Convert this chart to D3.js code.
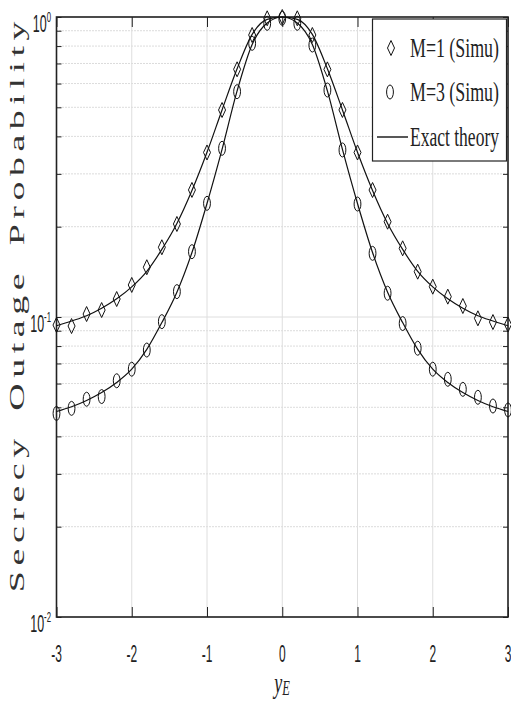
<!DOCTYPE html>
<html><head><meta charset="utf-8">
<script src="https://cdn.jsdelivr.net/npm/d3@7"></script>
<style>body{margin:0;background:#fff}svg{display:block}</style>
</head><body>
<svg id="c" width="511" height="704"></svg>
<script>
const xValues = [-3,-2.8,-2.6,-2.4,-2.2,-2,-1.8,-1.6,-1.4,-1.2,-1,-0.8,-0.6,-0.4,-0.2,0,0.2,0.4,0.6,0.8,1,1.2,1.4,1.6,1.8,2,2.2,2.4,2.6,2.8,3];
const simM1 = [0.0940,0.0933,0.1023,0.1055,0.1148,0.1279,0.1465,0.1708,0.2042,0.2652,0.3535,0.4898,0.6694,0.871,0.990,1.0,0.990,0.871,0.669,0.490,0.3535,0.265,0.2078,0.1694,0.1416,0.1262,0.1169,0.1088,0.0990,0.0962,0.0944];
const simM3 = [0.0477,0.0496,0.0532,0.0543,0.0613,0.0670,0.0776,0.0965,0.1215,0.1651,0.2393,0.3650,0.5637,0.8171,0.9528,0.990,0.953,0.8065,0.571,0.3604,0.238,0.163,0.1200,0.0951,0.0787,0.0670,0.0620,0.0574,0.0540,0.0505,0.0490];
const theoryM1 = [0.0935,0.097,0.101,0.107,0.115,0.126,0.142,0.168,0.205,0.264,0.354,0.490,0.672,0.875,0.982,1.0,0.982,0.875,0.672,0.490,0.354,0.264,0.205,0.168,0.142,0.126,0.115,0.107,0.101,0.097,0.0935];
const theoryM3 = [0.0484,0.0502,0.0527,0.0560,0.0605,0.0670,0.0780,0.0958,0.121,0.164,0.239,0.362,0.567,0.81,0.955,1.0,0.955,0.81,0.567,0.362,0.239,0.164,0.121,0.0958,0.0780,0.0670,0.0605,0.0560,0.0527,0.0502,0.0484];
const xTicks = [-3,-2,-1,0,1,2,3];
const yTickExps = [0,-1,-2];
const legendLabels = ["M=1 (Simu)","M=3 (Simu)","Exact theory"];

const svg = d3.select("#c");
const L=56.5, R=508, T=17, B=617;
const x = d3.scaleLinear().domain([-3,3]).range([L,R]);
const y = d3.scaleLog().domain([0.01,1]).range([B,T]);
const SERIF = "Liberation Serif, DejaVu Serif, serif";
const SANS = "Liberation Sans, Arial, sans-serif";

// grid
const g = svg.append("g");
const minor = [];
[0.01,0.1].forEach(d=>{for(let k=2;k<=9;k++) minor.push(+(d*k).toPrecision(3));});
g.selectAll("line.mg").data(minor).join("line")
  .attr("x1",L).attr("x2",R).attr("y1",d=>y(d)).attr("y2",d=>y(d))
  .attr("stroke","#b8b8b8").attr("stroke-width",1).attr("stroke-dasharray","1,2");
g.selectAll("line.vg").data(xTicks).join("line")
  .attr("x1",d=>x(d)).attr("x2",d=>x(d)).attr("y1",T).attr("y2",B)
  .attr("stroke","#dedede").attr("stroke-width",1);
g.selectAll("line.hg").data(yTickExps.map(e=>Math.pow(10,e))).join("line")
  .attr("x1",L).attr("x2",R).attr("y1",d=>y(d)).attr("y2",d=>y(d))
  .attr("stroke","#dedede").attr("stroke-width",1);

// ticks via d3 axes
const majorY = yTickExps.map(e=>Math.pow(10,e));
const allY = majorY.concat(minor);
svg.append("g").attr("transform",`translate(${L},0)`)
  .call(d3.axisRight(y).tickValues(allY).tickSize(5).tickFormat(""))
  .call(s=>{s.select(".domain").remove(); s.selectAll("line").attr("stroke","#222");});
svg.append("g").attr("transform",`translate(${R},0)`)
  .call(d3.axisLeft(y).tickValues(allY).tickSize(5).tickFormat(""))
  .call(s=>{s.select(".domain").remove(); s.selectAll("line").attr("stroke","#222");});
svg.append("g").attr("transform",`translate(0,${B})`)
  .call(d3.axisTop(x).tickValues(xTicks).tickSize(10).tickFormat(""))
  .call(s=>{s.select(".domain").remove(); s.selectAll("line").attr("stroke","#222");});
svg.append("g").attr("transform",`translate(0,${T})`)
  .call(d3.axisBottom(x).tickValues(xTicks).tickSize(10).tickFormat(""))
  .call(s=>{s.select(".domain").remove(); s.selectAll("line").attr("stroke","#222");});

// box
svg.append("rect").attr("x",L).attr("y",T).attr("width",R-L).attr("height",B-T)
  .attr("fill","none").attr("stroke","#222").attr("stroke-width",1.6);

// tick labels
xTicks.forEach(t=>{
  svg.append("g").attr("transform",`translate(${x(t)},662) scale(0.52,1)`)
    .append("text").attr("text-anchor","middle")
    .attr("font-family",SANS).attr("font-size",23)
    .attr("fill","#222").text(t);
});
yTickExps.forEach(e=>{
  const tx = svg.append("g").attr("transform",`translate(51,${y(Math.pow(10,e))+15}) scale(0.52,1)`)
    .append("text").attr("text-anchor","end")
    .attr("font-family",SANS).attr("font-size",24).attr("fill","#222");
  tx.append("tspan").text("10");
  tx.append("tspan").attr("font-size",15).attr("dy",-10).text(e);
});

// axis titles
const yl = svg.append("g").attr("transform","translate(24,304) rotate(-90) scale(1.9,1)");
yl.append("text").attr("text-anchor","middle")
  .attr("font-family",SERIF).attr("font-size",20).attr("fill","#333")
  .attr("letter-spacing",2.9).attr("word-spacing",4)
  .text("Secrecy Outage Probability");
const xl = svg.append("g").attr("transform","translate(282,693) scale(0.62,1)")
  .append("text").attr("text-anchor","middle")
  .attr("font-family",SERIF).attr("font-style","italic").attr("font-size",29).attr("fill","#222");
xl.append("tspan").text("y");
xl.append("tspan").attr("font-size",20).attr("dy",2).text("E");

// curves
const line = d3.line().x((d,i)=>x(xValues[i])).y(d=>y(d)).curve(d3.curveMonotoneX);
[theoryM1,theoryM3].forEach(s=>{
  svg.append("path").attr("d",line(s)).attr("fill","none").attr("stroke","#111").attr("stroke-width",1.2);
});

const diamond = "M0,-7.5L3.5,0L0,7.5L-3.5,0Z";
svg.append("g").selectAll("path").data(simM1).join("path")
  .attr("transform",(d,i)=>`translate(${x(xValues[i])},${y(d)})`)
  .attr("d",diamond).attr("fill","none").attr("stroke","#111").attr("stroke-width",1);
svg.append("g").selectAll("ellipse").data(simM3).join("ellipse")
  .attr("cx",(d,i)=>x(xValues[i])).attr("cy",d=>y(d)).attr("rx",3.4).attr("ry",7)
  .attr("fill","none").attr("stroke","#111").attr("stroke-width",1);

// legend
const lg = svg.append("g");
lg.append("rect").attr("x",372.5).attr("y",19).attr("width",134).attr("height",142)
  .attr("fill","#fff").attr("stroke","#222").attr("stroke-width",1.2);
const rows=[48,92,137];
lg.append("path").attr("transform",`translate(391,${rows[0]})`).attr("d",diamond)
  .attr("fill","none").attr("stroke","#111");
lg.append("ellipse").attr("cx",390).attr("cy",rows[1]).attr("rx",3.4).attr("ry",7)
  .attr("fill","none").attr("stroke","#111");
lg.append("line").attr("x1",377).attr("x2",408).attr("y1",rows[2]).attr("y2",rows[2])
  .attr("stroke","#111").attr("stroke-width",1.4);
legendLabels.forEach((t,i)=>{
  const gg = lg.append("g");
  const tt = gg.append("text").attr("x",0).attr("y",0)
    .attr("font-family",SERIF).attr("font-size",27).attr("fill","#222").text(t);
  const w = tt.node().getComputedTextLength() || 134;
  gg.attr("transform",`translate(410,${rows[i]+9}) scale(${(89/w).toFixed(3)},1)`);
});
</script>
</body></html>
